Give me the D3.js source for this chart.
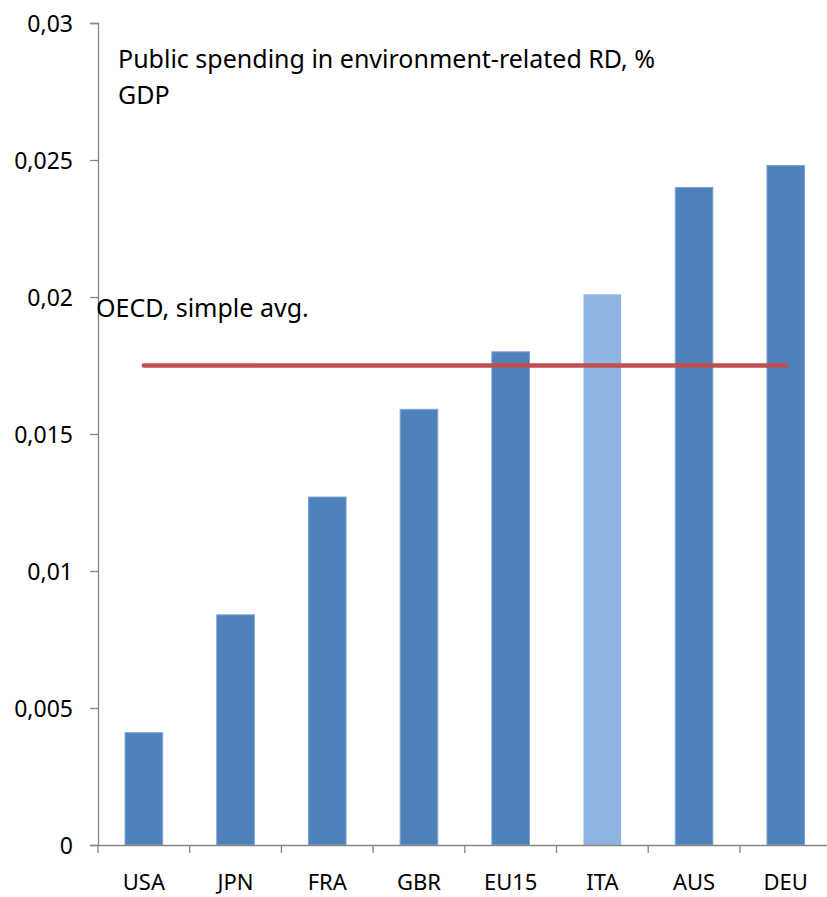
<!DOCTYPE html>
<html>
<head>
<meta charset="utf-8">
<script src="https://cdn.jsdelivr.net/npm/d3@7"></script>
<style>
  body { margin: 0; background: #fff; }
  text { font-family: "Noto Sans", sans-serif; fill: #000; }
</style>
</head>
<body>
<svg id="chart" width="827" height="897"></svg>
<script>
// data
const countries = ["USA", "JPN", "FRA", "GBR", "EU15", "ITA", "AUS", "DEU"];
const spending = [0.0041, 0.0084, 0.0127, 0.0159, 0.0180, 0.0201, 0.0240, 0.0248];
const oecdAvg = 0.0175;
const yTicks = [0, 0.005, 0.01, 0.015, 0.02, 0.025, 0.03];
const highlight = "ITA";

let margin = {top: 23, left: 98, bottom: 52},
    width = 827,
    height = 897;

let svg = d3.select("#chart");

//scales
let x = d3.scaleBand().domain(countries).range([margin.left, margin.left + 8 * 91.7]);
let y = d3.scaleLinear().domain([0, 0.03]).range([height - margin.bottom, margin.top]);

let fmt = d => d === 0 ? "0" : String(d).replace(".", ",");

//y axis
let yAxis = svg.append("g")
    .attr("transform", "translate(" + margin.left + ",0)")
    .call(d3.axisLeft(y).tickValues(yTicks).tickFormat(fmt).tickSize(8).tickPadding(17));
yAxis.select(".domain").attr("stroke", "#868686").attr("stroke-width", 1.3);
yAxis.selectAll(".tick line").attr("stroke", "#868686").attr("stroke-width", 1.3);
yAxis.selectAll(".tick text").style("font-size", "23px").attr("fill", "#000").attr("dy", "0.35em");

//bars
let barW = x.bandwidth() * 0.41;
svg.selectAll(".bar")
    .data(countries)
    .enter().append("rect")
    .attr("class", "bar")
    .attr("x", d => x(d) + (x.bandwidth() - barW) / 2)
    .attr("width", barW)
    .attr("y", (d, i) => y(spending[i]))
    .attr("height", (d, i) => y(0) - y(spending[i]))
    .attr("fill", d => d === highlight ? "#8EB4E3" : "#4F81BD")
    .attr("stroke", d => d === highlight ? "none" : "#7FA3D0")
    .attr("stroke-width", 1);

//x axis
let xAxis = svg.append("g")
    .attr("transform", "translate(0," + y(0) + ")")
    .call(d3.axisBottom(x).tickSize(0).tickPadding(0));
xAxis.select(".domain").attr("stroke", "#868686").attr("stroke-width", 1.3);
xAxis.selectAll(".tick text").style("font-size", "22px").attr("fill", "#000")
    .attr("dy", null).attr("y", 45);
// category boundary ticks
xAxis.selectAll(".sep")
    .data(countries)
    .enter().append("line")
    .attr("x1", d => x(d)).attr("x2", d => x(d))
    .attr("y1", 0).attr("y2", 8)
    .attr("stroke", "#868686").attr("stroke-width", 1.3);

//oecd average line
svg.append("line")
    .attr("x1", x(countries[0]) + x.bandwidth() / 2)
    .attr("x2", x(countries[countries.length - 1]) + x.bandwidth() / 2)
    .attr("y1", y(oecdAvg)).attr("y2", y(oecdAvg))
    .attr("stroke", "#C0504D")
    .attr("stroke-width", 4.5)
    .attr("stroke-linecap", "round");

svg.append("text")
    .attr("x", 96).attr("y", 317)
    .style("font-size", "25px")
    .text("OECD, simple avg.");

//title
svg.append("text")
    .attr("x", 118).attr("y", 68)
    .style("font-size", "25px")
    .text("Public spending in environment-related RD, %");
svg.append("text")
    .attr("x", 118).attr("y", 104)
    .style("font-size", "25px")
    .text("GDP");
</script>
</body>
</html>
